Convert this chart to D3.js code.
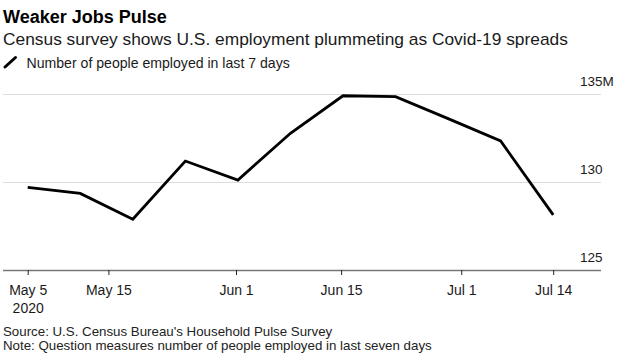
<!DOCTYPE html>
<html>
<head>
<meta charset="utf-8">
<script src="https://cdn.jsdelivr.net/npm/d3@7"></script>
<style>
  html, body { margin: 0; padding: 0; background: #fff; }
  svg { display: block; font-family: "Liberation Sans", Arial, Helvetica, sans-serif; }
</style>
</head>
<body>
<svg id="chart" width="627" height="360"></svg>
<script>
// ---- data ----
const dates = ["2020-05-05","2020-05-12","2020-05-19","2020-05-26","2020-06-02","2020-06-09",
               "2020-06-16","2020-06-23","2020-06-30","2020-07-07","2020-07-14"];
const employed = [129.69, 129.35, 127.88, 131.19, 130.11, 132.77, 134.90, 134.85, 133.6, 132.33, 128.13];
const xTickDates = ["2020-05-05T00:00Z","2020-05-15T18:00Z","2020-06-01T18:00Z","2020-06-15T18:00Z","2020-07-01T18:00Z","2020-07-14T00:00Z"];
const xTickLabels = ["May 5","May 15","Jun 1","Jun 15","Jul 1","Jul 14"];
const yearLabel = "2020";
const yTicks = [125, 130, 135];
const yTickLabels = ["125", "130", "135M"];
const title = "Weaker Jobs Pulse";
const subtitle = "Census survey shows U.S. employment plummeting as Covid-19 spreads";
const legendLabel = "Number of people employed in last 7 days";
const sourceText = "Source: U.S. Census Bureau's Household Pulse Survey";
const noteText = "Note: Question measures number of people employed in last seven days";

// ---- layout ----
const svg = d3.select("#chart");
const plotLeft = 3, plotRight = 601;
const parse = s => new Date(s + (s.length === 10 ? "T00:00Z" : ""));
const data = dates.map((d, i) => ({ date: parse(d), value: employed[i] }));

const x = d3.scaleUtc()
  .domain([parse("2020-05-05"), parse("2020-07-14")])
  .range([27.7, 553.2]);
const y = d3.scaleLinear().domain([125, 135]).range([270, 94]);

// titles
svg.append("text").attr("x", 3).attr("y", 22.5)
  .attr("font-size", 18).attr("font-weight", "bold").attr("fill", "#000").text(title);
svg.append("text").attr("x", 3).attr("y", 45)
  .attr("font-size", 17.35).attr("fill", "#1a1a1a").text(subtitle);

// legend
svg.append("line").attr("x1", 5).attr("y1", 67).attr("x2", 15.5).attr("y2", 57.5)
  .attr("stroke", "#000").attr("stroke-width", 3).attr("stroke-linecap", "round");
svg.append("text").attr("x", 26.5).attr("y", 68.3)
  .attr("font-size", 14.1).attr("fill", "#1a1a1a").text(legendLabel);

// y axis (gridlines + labels)
const yAxis = d3.axisRight(y)
  .tickValues(yTicks)
  .tickSize(plotRight - plotLeft)
  .tickFormat((d, i) => yTickLabels[i]);
const gy = svg.append("g").attr("transform", `translate(${plotLeft},0)`).call(yAxis);
gy.select(".domain").remove();
gy.selectAll(".tick line")
  .attr("stroke", d => d === 125 ? "#777" : "#dcdcdc")
  .attr("stroke-width", d => d === 125 ? 1.6 : 1.2);
gy.selectAll(".tick text")
  .attr("x", 577).attr("dy", 0).attr("y", -9)
  .attr("text-anchor", "start")
  .attr("font-size", 13.5).attr("font-family", null).attr("fill", "#1a1a1a");

// x axis
const xAxis = d3.axisBottom(x)
  .tickValues(xTickDates.map(parse))
  .tickSize(5)
  .tickPadding(10)
  .tickFormat((d, i) => xTickLabels[i]);
const gx = svg.append("g").attr("transform", `translate(0,${y(125)})`).call(xAxis);
gx.select(".domain").remove();
gx.selectAll(".tick line").attr("stroke", "#222").attr("stroke-width", 1);
gx.selectAll(".tick text")
  .attr("font-size", 14).attr("font-family", null).attr("fill", "#1a1a1a");
gx.selectAll(".tick").filter((d, i) => i === 0)
  .append("text")
  .attr("y", 15 + 0.71 * 14 + 17.7).attr("text-anchor", "middle")
  .attr("font-size", 14).attr("fill", "#1a1a1a").text(yearLabel);

// line
const line = d3.line().x(d => x(d.date)).y(d => y(d.value));
svg.append("path").datum(data)
  .attr("fill", "none").attr("stroke", "#000").attr("stroke-width", 2.8)
  .attr("stroke-linejoin", "miter").attr("d", line);

// footer
svg.append("text").attr("x", 3).attr("y", 336)
  .attr("font-size", 13.3).attr("fill", "#222").text(sourceText);
svg.append("text").attr("x", 3).attr("y", 349.5)
  .attr("font-size", 13.3).attr("fill", "#222").text(noteText);
</script>
</body>
</html>
